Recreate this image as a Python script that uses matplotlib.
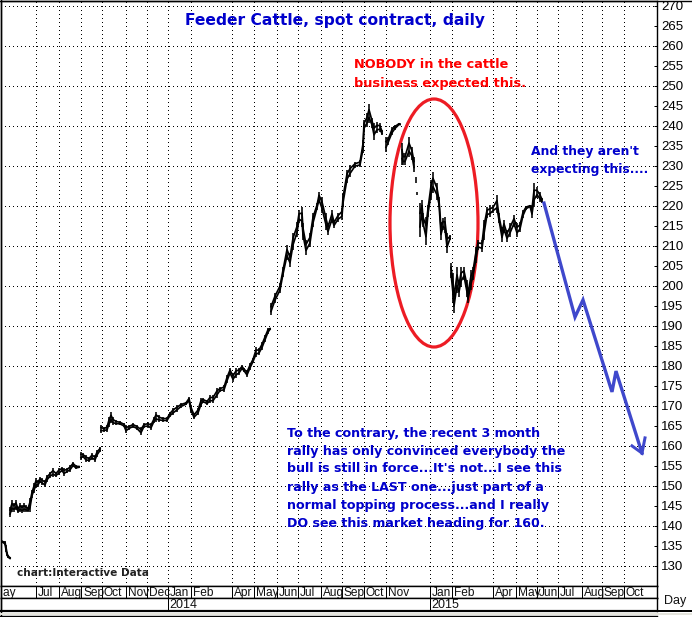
import numpy as np
import matplotlib
matplotlib.use("Agg")
import matplotlib.pyplot as plt
from matplotlib.patches import Ellipse

W, H = 692, 617
nan = float("nan")

# x = trading-day position, nan rows mark breaks in the bars
bar_x = [1,3,5,6,7,8,10,nan,
 10,12,14,16,18,20,22,24,26,28,30,32,34,36,38,40,42,45,47,50,53,56,59,62,64,67,70,73,76,79,nan,
 81,83,86,89,92,95,97,100,nan,
 101,104,107,109,111,113,116,120,124,126,129,133,137,141,144,148,151,154,156,159,163,167,170,173,177,181,186,189,
 191,194,198,201,203,207,210,213,217,220,224,227,230,233,236,239,242,244,247,250,253,256,259,262,265,268,270,nan,
 271,275,280,283,287,290,293,297,299,302,303,306,310,313,317,319,322,326,328,332,334,338,342,343,347,350,355,360,363,364,367,369,372,374,377,380,382,nan,
 386,388,392,395,399,400,nan,
 402,403,405,409,412,414,nan,416,nan,417,nan,
 420,422,423,426,428,431,433,437,439,441,443,445,447,450,nan,
 451,453,454,457,459,461,464,467,468,471,473,476,478,482,484,487,490,493,497,499,502,504,507,510,514,517,520,523,526,530,532,534,537,540,542]
bar_high = [136.4,136.1,136.1,135.1,133.4,132.6,132.1,nan,
 144.6,146.4,145.6,146.4,144.6,145.6,145.1,145.6,145.1,144.6,146.9,148.9,150.6,151.9,151.4,152.1,151.9,151.4,152.6,153.4,154.4,153.4,154.4,154.6,154.4,154.4,155.1,155.9,155.1,154.9,nan,
 158.4,158.1,157.6,157.1,158.1,157.6,158.9,159.6,nan,
 165.1,164.6,165.1,167.1,168.4,167.1,166.4,166.1,165.6,165.1,165.1,165.6,165.1,164.6,165.6,165.9,165.6,167.1,168.4,167.6,167.1,167.1,168.4,169.4,170.1,170.6,170.9,172.1,
 170.1,168.1,169.4,171.9,171.9,171.4,172.6,172.6,174.4,174.6,175.1,177.6,179.4,178.1,179.4,179.4,180.1,179.4,178.9,180.6,181.9,184.6,184.4,185.9,187.6,189.4,189.4,nan,
 195.6,198.1,200.6,204.6,210.1,208.1,213.1,215.9,218.9,219.6,215.6,211.4,213.1,218.1,220.6,223.4,222.1,218.1,215.6,218.9,216.4,218.1,219.4,223.1,228.9,230.1,230.9,231.4,236.4,241.4,243.1,245.4,241.9,240.6,240.9,240.6,238.9,nan,
 237.1,237.1,239.6,240.1,240.6,240.5,nan,
 235.6,233.1,233.1,237.1,234.6,232.1,nan,227.1,nan,223.4,nan,
 220.6,221.4,218.1,217.1,220.1,226.4,228.4,225.6,222.1,215.9,216.9,217.1,213.1,212.6,nan,
 205.6,203.1,198.9,204.6,201.4,204.6,204.6,201.4,198.9,203.9,204.6,209.6,211.4,211.4,216.4,219.6,220.1,220.1,222.6,218.1,214.6,216.4,213.9,215.6,217.6,215.6,215.9,218.9,219.9,220.1,220.1,225.6,224.6,223.4,221.9]
bar_low = [135.9,135.6,135.1,133.4,132.4,131.9,131.6,nan,
 142.1,143.4,143.4,143.9,143.1,143.4,143.1,143.4,143.4,143.4,143.4,146.9,148.1,149.4,149.6,150.6,150.1,149.6,150.9,151.9,152.1,152.1,152.6,153.4,152.4,153.1,153.4,154.6,154.1,154.4,nan,
 156.4,156.9,155.9,155.9,156.4,155.9,157.1,158.4,nan,
 163.1,163.4,163.4,164.6,165.6,165.1,165.1,165.1,164.6,163.1,163.9,164.4,163.9,162.6,164.4,164.4,163.9,165.6,165.9,165.9,165.9,165.9,167.1,167.6,168.4,169.4,170.1,170.9,
 168.1,166.6,167.6,169.6,170.6,170.1,170.6,170.6,171.9,173.4,173.4,175.6,177.6,175.9,176.9,177.6,178.9,178.4,177.1,178.9,180.6,182.1,182.6,183.9,185.9,187.9,188.9,nan,
 192.6,195.6,198.1,202.1,206.4,204.6,208.9,212.1,215.6,214.6,211.4,207.6,209.6,214.6,218.9,220.6,218.1,213.9,212.6,215.6,214.4,215.9,216.4,219.6,225.6,227.1,229.4,229.6,233.1,238.4,239.6,240.6,239.4,236.4,238.1,238.4,237.6,nan,
 233.4,235.1,237.6,238.9,240.1,240.1,nan,
 230.1,230.1,230.1,232.1,231.4,228.4,nan,225.6,nan,222.6,nan,
 212.1,216.9,214.6,210.1,217.1,221.4,223.1,221.4,219.6,211.4,213.9,213.1,208.1,211.4,nan,
 201.9,195.9,193.1,198.1,197.1,199.6,201.4,197.1,195.6,198.9,201.4,205.6,208.9,208.4,211.4,216.9,217.1,218.1,218.1,215.6,210.9,213.1,210.9,212.1,214.6,212.1,213.4,216.9,218.9,219.6,216.9,219.6,221.9,220.9,220.6]

forecast_x = [544,575,583,612,616,642]
forecast_y = [220.6,192.1,196.4,173.4,178.6,158.1]
arrow_x = [632,642,645]
arrow_y = [159.9,158.1,161.9]

price_ticks = list(range(130,275,5))
grid_prices = list(range(130,280,10))
month_ticks = [-9,36,59,81,102,126,147,168,191,232,254,277,298,321,342,364,386,430,452,493,516,537,558,582,602,624]
month_names = ["May","Jul","Aug","Sep","Oct","Nov","Dec","Jan","Feb","Apr","May","Jun","Jul","Aug","Sep","Oct","Nov","Jan","Feb","Apr","May","Jun","Jul","Aug","Sep","Oct"]
year_ticks = [168,430]
year_names = ["2014","2015"]

BLUE = "#0000CC"
lw1 = 72/100  # one pixel in points

def rect(x0,y0,x1,y1):
    return [x0/W, 1-y1/H, (x1-x0)/W, (y1-y0)/H]

fig = plt.figure(figsize=(W/100,H/100), dpi=100, facecolor="white")
plt.rcParams["font.family"] = ["Liberation Sans","DejaVu Sans"]

ax = fig.add_axes(rect(1,1,657,586))
ax.set_xlim(1,657)
ax.set_ylim(271.375-586/4, 271.375-1/4)
for s in ax.spines.values():
    s.set_linewidth(1.4*lw1)
    s.set_color("black")
ax.yaxis.tick_right()
ax.set_yticks(price_ticks)
ax.set_yticklabels([str(p) for p in price_ticks], fontsize=9.5, family="Liberation Sans")
ax.tick_params(axis="y", direction="out", length=0, pad=3)
ax.set_xticks([])
ax.hlines(price_ticks, 654, 657, color="black", lw=lw1, zorder=3)

dots = (0,(1,3))
ax.hlines(grid_prices, 1, 654, color="black", lw=lw1, linestyles=[dots], zorder=1, antialiased=False)
ax.vlines(month_ticks[1:], ax.get_ylim()[0], ax.get_ylim()[1], color="black", lw=lw1, linestyles=[dots], zorder=1, antialiased=False)

ax.add_patch(Ellipse((434,271.375-223/4), 88, 248/4, fill=False, ec="#ED1C24", lw=3.2*lw1, zorder=3))

xs = np.array(bar_x); hi = np.array(bar_high); lo = np.array(bar_low)
keep = ~np.isnan(xs)
ax.vlines(xs[keep], lo[keep], hi[keep], color="black", lw=1.6*lw1, zorder=4)
ax.plot(xs, hi-(hi-lo)*0.3, color="black", lw=1.7*lw1, zorder=4)
ax.plot(xs, lo+(hi-lo)*0.3, color="black", lw=1.7*lw1, zorder=4)

ax.plot(forecast_x, forecast_y, color="#3F48CC", lw=3.3*lw1, zorder=5, solid_joinstyle="miter")
ax.plot(arrow_x, arrow_y, color="#3F48CC", lw=3*lw1, zorder=5, solid_joinstyle="miter")

am = fig.add_axes(rect(1,586,657,598))
am.set_xlim(1,657); am.set_ylim(0,1); am.set_xticks([]); am.set_yticks([])
am.vlines(month_ticks, 0, 1, color="black", lw=lw1)
for t,n in zip(month_ticks,month_names):
    am.text(t+2, 0.42, n, fontsize=8.6, va="center", ha="left", clip_on=True, color="#111111")
ay = fig.add_axes(rect(1,598,657,611))
ay.set_xlim(1,657); ay.set_ylim(0,1); ay.set_xticks([]); ay.set_yticks([])
ay.vlines(year_ticks, 0, 1, color="black", lw=lw1)
for t,n in zip(year_ticks,year_names):
    ay.text(t+1, 0.45, n, fontsize=9, va="center", ha="left", color="#111111")
for a in (am,ay):
    for s in a.spines.values():
        s.set_linewidth(1.4*lw1)
ay.spines["bottom"].set_linewidth(2.2*lw1)

def T(x,y,s,**k):
    fig.text(x/W, 1-y/H, s, va="center", ha="left", family="DejaVu Sans", **k)

T(185,20,"Feeder Cattle, spot contract, daily", fontsize=11.15, fontweight="bold", color=BLUE)
T(354,65,"NOBODY in the cattle", fontsize=9.3, fontweight="bold", color="#FF0000")
T(354,83,"business expected this.", fontsize=9.3, fontweight="bold", color="#FF0000")
T(531,152,"And they aren't", fontsize=8.95, fontweight="bold", color=BLUE)
T(531,170,"expecting this....", fontsize=8.95, fontweight="bold", color=BLUE)
lines = ["To the contrary, the recent 3 month",
         "rally has only convinced everybody the",
         "bull is still in force...It's not...I see this",
         "rally as the LAST one...just part of a",
         "normal topping process...and I really",
         "DO see this market heading for 160."]
for i,l in enumerate(lines):
    T(287,433+18*i,l, fontsize=9.05, fontweight="bold", color=BLUE)
T(17,573,"chart:Interactive Data", fontsize=7.6, fontweight="bold", color="#222222")
fig.text(664/W, 1-601/H, "Day", fontsize=9, va="center", ha="left", color="#111111")

fig.add_artist(plt.Line2D([0,657/W],[1-615.5/H]*2, color="black", lw=1.4*lw1))
fig.add_artist(plt.Line2D([0,1],[1-616.5/H]*2, color="black", lw=lw1))
fig.add_artist(plt.Line2D([0.5/W]*2,[0,1], color="black", lw=1.4*lw1))
fig.add_artist(plt.Line2D([0,1],[1-0.5/H]*2, color="black", lw=1.4*lw1))
fig.add_artist(plt.Line2D([657/W,1],[1-611/H]*2, color="black", lw=2*lw1))
fig.add_artist(plt.Line2D([0,1],[1-613.5/H]*2, color="#E4E4DC", lw=2*lw1))

fig.savefig("out.png", dpi=100, facecolor="white")
